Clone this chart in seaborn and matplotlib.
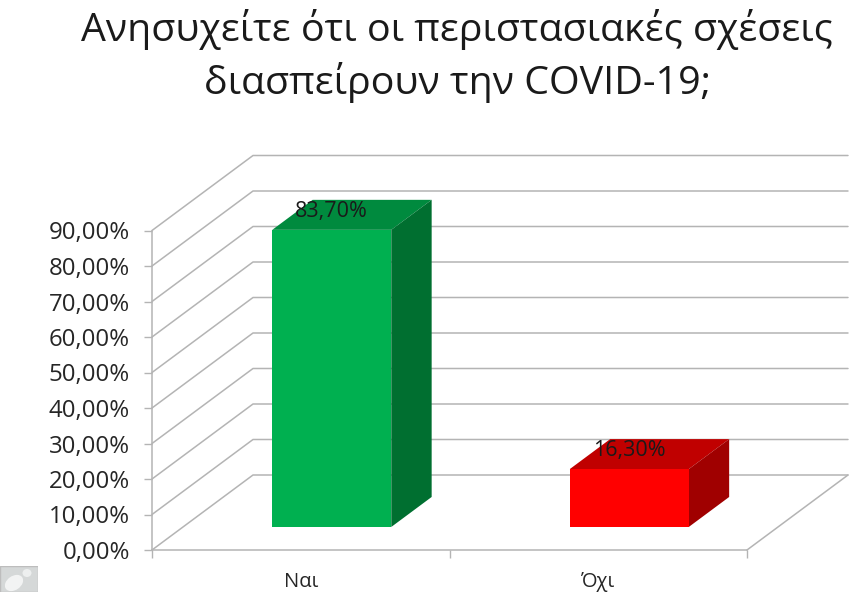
import matplotlib
matplotlib.use("Agg")
import matplotlib.pyplot as plt
import pandas as pd
import seaborn as sns
from matplotlib.patches import Polygon, Rectangle, Ellipse
from matplotlib.transforms import Affine2D

categories = ["Ναι", "Όχι"]
values = [83.7, 16.3]
value_labels = ["83,70%", "16,30%"]
front_colors = ["#00B050", "#FF0000"]
top_colors = ["#008A3E", "#C00000"]
side_colors = ["#006F30", "#A00000"]
yticks = [0, 10, 20, 30, 40, 50, 60, 70, 80, 90]
ytick_labels = ["0,00%", "10,00%", "20,00%", "30,00%", "40,00%",
                "50,00%", "60,00%", "70,00%", "80,00%", "90,00%"]
title = "Ανησυχείτε ότι οι περιστασιακές σχέσεις\nδιασπείρουν την COVID-19;"

sns.set_theme(style="white")
plt.rcParams["font.family"] = ["Open Sans", "DejaVu Sans"]

GRID = "#B4B4B4"
TEXT = "#262626"

# oblique projection, one unit of depth in data units
DEPTH_X = 101 / 297.5
DEPTH_Y = 75 / 3.55
BAR_FRONT = 0.307
BAR_BACK = 0.707
BAR_W = 0.4


def proj(x, y, depth):
    return x + depth * DEPTH_X, y + depth * DEPTH_Y


fig = plt.figure(figsize=(8.66, 5.92), dpi=100)
ax = fig.add_axes([152 / 866, 42 / 592, 595 / 866, 319.5 / 592])

df = pd.DataFrame({"answer": categories, "share": values})
sns.barplot(data=df, x="answer", y="share", hue="answer", palette=front_colors,
            width=BAR_W, legend=False, ax=ax, saturation=1, linewidth=0, zorder=4)

ax.set_xlim(-0.5, 1.5)
ax.set_ylim(0, 90)
ax.set_xlabel("")
ax.set_ylabel("")

# move the seaborn bars back to their depth
shift = Affine2D().translate(BAR_FRONT * DEPTH_X, BAR_FRONT * DEPTH_Y)
for patch in ax.patches:
    patch.set_transform(shift + ax.transData)
    patch.set_clip_on(False)

# wall and floor lines
for y in yticks:
    pts = [proj(-0.5, y, 0), proj(-0.5, y, 1), proj(1.5, y, 1)]
    ax.plot(*zip(*pts), color=GRID, lw=1.1, clip_on=False, zorder=1)
ax.plot(*zip(proj(1.5, 0, 0), proj(1.5, 0, 1)), color=GRID, lw=1.1, clip_on=False, zorder=1)

# top and side faces of the bars
for i, v in enumerate(values):
    xl, xr = i - BAR_W / 2, i + BAR_W / 2
    top = [proj(xl, v, BAR_FRONT), proj(xr, v, BAR_FRONT), proj(xr, v, BAR_BACK), proj(xl, v, BAR_BACK)]
    side = [proj(xr, 0, BAR_FRONT), proj(xr, 0, BAR_BACK), proj(xr, v, BAR_BACK), proj(xr, v, BAR_FRONT)]
    ax.add_patch(Polygon(top, closed=True, fc=top_colors[i], ec="none", clip_on=False, zorder=3))
    ax.add_patch(Polygon(side, closed=True, fc=side_colors[i], ec="none", clip_on=False, zorder=3))
    fx, fy = proj(i, v, BAR_FRONT)
    ax.annotate(value_labels[i], xy=(fx, fy), xytext=(0, 13.5), textcoords="offset points",
                ha="center", va="center", fontsize=15.5, color="#1A1A1A", zorder=5, annotation_clip=False)

ax.set_yticks(yticks)
ax.set_yticklabels(ytick_labels, fontsize=17.3, color=TEXT)
ax.set_xticks([-0.5, 0.5, 1.5])
ax.set_xticklabels([])
ax.set_xticks([0, 1], minor=True)
ax.set_xticklabels(categories, minor=True, fontsize=14.5, color=TEXT)
ax.tick_params(axis="y", which="major", left=True, length=6, width=1, color=GRID, pad=10)
ax.tick_params(axis="x", which="major", bottom=True, length=6, width=1, color=GRID)
ax.tick_params(axis="x", which="minor", bottom=False, length=0, pad=15.5)

sns.despine(ax=ax)
for side_name in ["left", "bottom"]:
    ax.spines[side_name].set_color(GRID)
    ax.spines[side_name].set_linewidth(1.1)

fig.text(457 / 866, 1 - 56 / 592, title, ha="center", va="center", fontsize=28.4,
         color="#1A1A1A", linespacing=1.36)

# small picture in the lower left corner
ax_icon = fig.add_axes([0, 0, 38 / 866, 26 / 592])
ax_icon.set_xlim(0, 38)
ax_icon.set_ylim(0, 26)
ax_icon.axis("off")
ax_icon.add_patch(Rectangle((0, 0), 38, 26, fc="#D5D8D8", ec="#BDBDBD", lw=1))
ax_icon.add_patch(Ellipse((14, 9), 20, 14, angle=35, fc="#F2F3F3", ec="none"))
ax_icon.add_patch(Ellipse((27, 19), 9, 8, fc="#EDEFEF", ec="none"))

fig.savefig("out.png", dpi=100, facecolor="white")
